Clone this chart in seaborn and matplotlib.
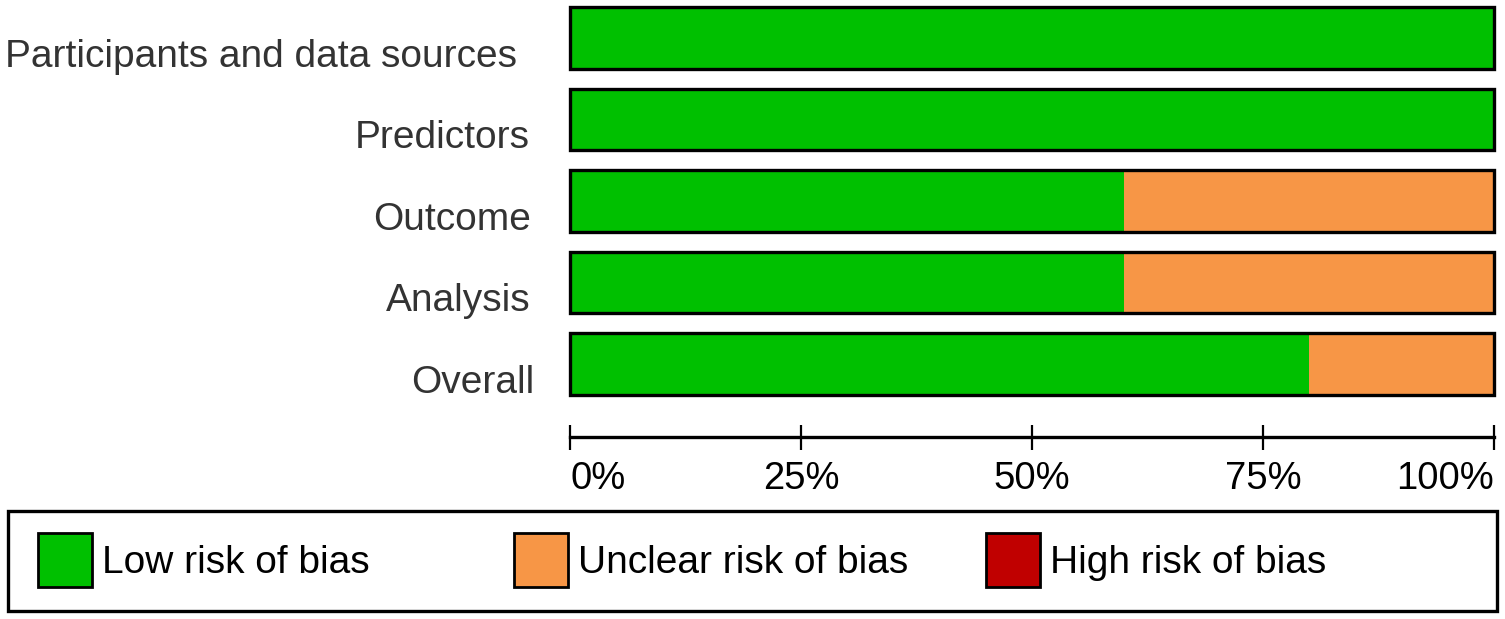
import matplotlib
matplotlib.use('Agg')
import matplotlib.pyplot as plt
import seaborn as sns
import pandas as pd
from matplotlib.patches import Rectangle
from matplotlib.transforms import ScaledTranslation

domains = ["Participants and data sources", "Predictors", "Outcome", "Analysis", "Overall"]
low = [100, 100, 60, 60, 80]
unclear = [0, 0, 40, 40, 20]
high = [0, 0, 0, 0, 0]
legend_labels = ["Low risk of bias", "Unclear risk of bias", "High risk of bias"]
colors = ["#00C000", "#F79646", "#C00000"]
ticks = [0, 25, 50, 75, 100]
tick_labels = ["0%", "25%", "50%", "75%", "100%"]

sns.set_style('white')
plt.rcParams['font.family'] = ['Liberation Sans', 'DejaVu Sans']

W, H = 1505, 619
fig = plt.figure(figsize=(W / 100, H / 100), dpi=100)
ax = fig.add_axes([570 / W, 1 - 437 / H, 924 / W, 437 / H])

df = pd.DataFrame({'domain': domains, 'low': low, 'unclear': unclear, 'high': high})
df['cum_unclear'] = df['low'] + df['unclear']
df['cum_high'] = df['cum_unclear'] + df['high']

bw = 0.76
sns.barplot(data=df, x='cum_high', y='domain', color=colors[2], saturation=1, width=bw, linewidth=0, ax=ax, orient='h')
sns.barplot(data=df, x='cum_unclear', y='domain', color=colors[1], saturation=1, width=bw, linewidth=0, ax=ax, orient='h')
sns.barplot(data=df, x='low', y='domain', color=colors[0], saturation=1, width=bw, linewidth=0, ax=ax, orient='h')
sns.barplot(data=df, x='cum_high', y='domain', color='black', fill=False, saturation=1, width=bw, linewidth=2.4, ax=ax, orient='h')
for p in ax.patches:
    p.set_clip_on(False)

ax.set_xlim(0, 100)
ax.set_ylim(4.896, -0.466)
ax.set_xlabel('')
ax.set_ylabel('')
sns.despine(ax=ax, left=True)
ax.spines['bottom'].set_linewidth(2.4)
ax.spines['bottom'].set_color('black')

ax.set_xticks(ticks)
ax.set_xticklabels(tick_labels)
ax.tick_params(axis='x', bottom=True, direction='inout', length=18, width=1.6, color='black',
               labelsize=27.5, labelcolor='black', pad=8.5)
xl = ax.get_xticklabels()
xl[0].set_ha('left')
xl[-1].set_ha('right')

ax.tick_params(axis='y', left=False, length=0, pad=29, labelsize=28, labelcolor='#333333')
label_dx_px = [-13, 0, 1, 1, 5]
for lab, dx in zip(ax.get_yticklabels(), label_dx_px):
    lab.set_transform(lab.get_transform() + ScaledTranslation(dx / 100, -0.15, fig.dpi_scale_trans))

# legend box
lax = fig.add_axes([0, 0, 1, 1], zorder=-1)
lax.set_xlim(0, W)
lax.set_ylim(H, 0)
lax.axis('off')
lax.add_patch(Rectangle((8, 511), 1489, 100, fill=False, lw=2.4, edgecolor='black'))
for x0, lab, c in zip([38, 514, 986], legend_labels, colors):
    lax.add_patch(Rectangle((x0, 533), 54, 54, facecolor=c, edgecolor='black', lw=2.0))
    lax.text(x0 + 64, 563, lab, fontsize=28, va='center', ha='left', color='black')

fig.savefig('out.png', dpi=100)
